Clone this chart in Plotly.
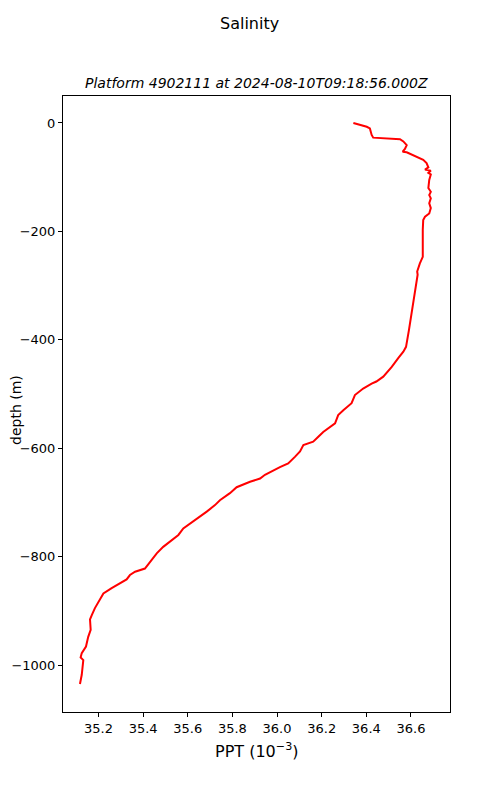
import plotly.graph_objects as go

# salinity profile (PPT), depth in metres (negative = down)
salinity = [
    36.342, 36.379, 36.402, 36.416, 36.424, 36.431, 36.551, 36.566, 36.581, 36.573,
    36.563, 36.581, 36.626, 36.655, 36.670, 36.678, 36.663, 36.689, 36.678, 36.689,
    36.682, 36.678, 36.689, 36.682, 36.689, 36.682, 36.689, 36.682, 36.663, 36.655,
    36.653, 36.653, 36.640, 36.628, 36.630, 36.618, 36.603, 36.591, 36.578, 36.566,
    36.543, 36.514, 36.476, 36.445, 36.424, 36.386, 36.349, 36.334, 36.297, 36.274,
    36.260, 36.207, 36.185, 36.162, 36.118, 36.103, 36.080, 36.050, 36.013, 35.976,
    35.946, 35.924, 35.879, 35.819, 35.789, 35.744, 35.722, 35.685, 35.655, 35.610,
    35.580, 35.558, 35.528, 35.490, 35.461, 35.438, 35.408, 35.364, 35.341, 35.326,
    35.282, 35.259, 35.222, 35.199, 35.184, 35.170, 35.162, 35.165, 35.154, 35.144,
    35.125, 35.120, 35.132, 35.125, 35.117,
]
depth = [
    0, -4, -7, -10, -22, -27, -30, -34, -41, -48,
    -53, -54, -62, -68, -74, -82, -86, -88, -92, -95,
    -105, -120, -127, -133, -139, -148, -157, -167, -173, -179,
    -197, -247, -259, -274, -280, -314, -351, -382, -413, -422,
    -434, -450, -468, -477, -481, -490, -502, -517, -530, -539,
    -554, -570, -579, -588, -594, -606, -616, -628, -635, -643,
    -649, -656, -662, -672, -683, -696, -705, -717, -726, -739,
    -748, -760, -769, -782, -794, -806, -822, -828, -834, -842,
    -852, -858, -868, -883, -895, -908, -916, -935, -948, -966,
    -978, -986, -991, -1018, -1035,
]

x_ticks = [35.2, 35.4, 35.6, 35.8, 36.0, 36.2, 36.4, 36.6]
x_tick_text = ["35.2", "35.4", "35.6", "35.8", "36.0", "36.2", "36.4", "36.6"]
y_ticks = [0, -200, -400, -600, -800, -1000]
y_tick_text = ["0", "\u2212200", "\u2212400", "\u2212600", "\u2212800", "\u22121000"]

font = "DejaVu Sans"

fig = go.Figure()
fig.add_trace(go.Scatter(
    x=salinity, y=depth, mode="lines",
    line=dict(color="red", width=2),
    showlegend=False, hoverinfo="skip",
))

axis_style = dict(
    showgrid=False, zeroline=False, showline=True, linecolor="black", linewidth=1,
    mirror=True, ticks="outside", ticklen=4, tickwidth=1, tickcolor="black",
    tickfont=dict(family=font, size=13, color="black"), automargin=False,
)
fig.update_xaxes(range=[35.041, 36.775], tickvals=x_ticks, ticktext=x_tick_text, **axis_style)
fig.update_yaxes(range=[-1086.7, 49.8], tickvals=y_ticks, ticktext=y_tick_text, **axis_style)

annots = [
    dict(text="Salinity", x=0.483, y=1.117, size=16, italic=False),
    dict(text="Platform 4902111 at 2024-08-10T09:18:56.000Z", x=0.5, y=1.021, size=14, italic=True),
    dict(text="PPT (10<sup>\u22123</sup>)", x=0.5, y=-0.0633, size=16, italic=False),
]
for a in annots:
    fig.add_annotation(
        text=f"<i>{a['text']}</i>" if a["italic"] else a["text"],
        xref="paper", yref="paper", x=a["x"], y=a["y"],
        showarrow=False, xanchor="center", yanchor="middle",
        font=dict(family=font, size=a["size"], color="black"),
    )
# y label sits as far left as the page allows without being clipped
fig.add_annotation(
    text="depth (m)", xref="paper", yref="paper", x=-0.122, y=0.49,
    showarrow=False, textangle=-90, xanchor="center", yanchor="middle",
    font=dict(family=font, size=14, color="black"),
)

# page body adds ~8px offset, so margins are shifted to compensate
fig.update_layout(
    width=500, height=800,
    margin=dict(l=55, r=58, t=88, b=96),
    paper_bgcolor="white", plot_bgcolor="white",
)

fig.write_html("out.html")
